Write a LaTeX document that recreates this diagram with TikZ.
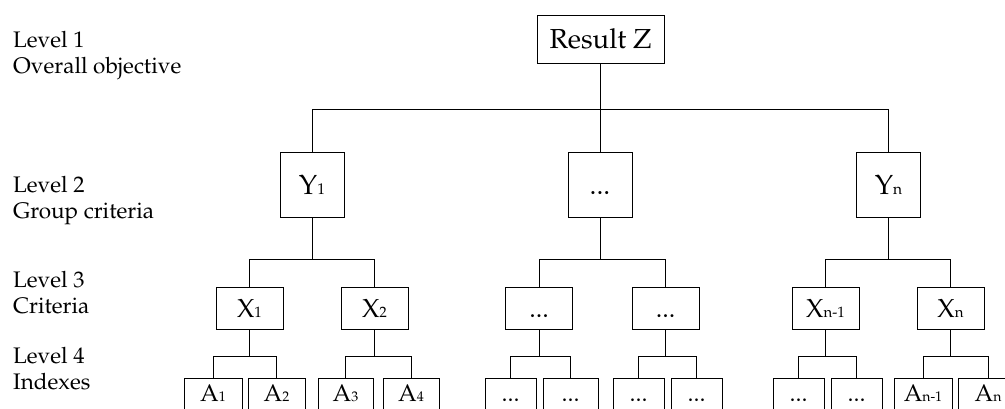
\documentclass[tikz,border=0pt]{standalone}
\usepackage[T1]{fontenc}
\usepackage{mathpazo}
\begin{document}
\begin{tikzpicture}[x=1pt,y=-1pt,
  every node/.style={inner sep=0pt},
  conn/.style={draw=black, line width=0.8pt},
  bx/.style={draw=black, line width=0.8pt, text height=18pt, text depth=0pt,
    font=\fontsize{26}{26}\selectfont\def\subfont{\fontsize{15}{15}\selectfont}},
  bxbig/.style={bx, text height=19pt,
    font=\fontsize{27.5}{27.5}\selectfont\def\subfont{\fontsize{15.5}{15.5}\selectfont}},
  boxA/.style={draw=black, line width=0.8pt, anchor=north, text height=23pt, text depth=20pt,
    font=\fontsize{24}{24}\selectfont\def\subfont{\fontsize{14}{14}\selectfont}},
  lvl/.style={anchor=north west, align=left, font=\fontsize{22.5}{26}\selectfont}
]
\newcommand{\sbs}[1]{{\subfont #1}}
\useasboundingbox (0,0) rectangle (1005,408);
\clip (0,0) rectangle (1005,408);

% level labels
\node[lvl] (L1) at (13,31) {Level 1\\Overall objective};
\node[lvl] (L2) at (13,176) {Level 2\\Group criteria};
\node[lvl] (L3) at (13,271) {Level 3\\Criteria};
\node[lvl] (L4) at (13,347) {Level 4\\Indexes};

% level 1
\node[bxbig, minimum width=127pt, minimum height=48pt] (Z) at (600.5,39) {Result Z};

% level 2
\node[bxbig, minimum width=64pt, minimum height=65pt] (Y1) at (312,184.5) {Y\sbs{1}};
\node[bxbig, minimum width=64pt, minimum height=65pt] (YM) at (600,184.5) {...};
\node[bxbig, minimum width=64pt, minimum height=65pt] (Yn) at (888.5,184.5) {Y\sbs{n}};

% level 3
\node[bx, minimum width=67pt, minimum height=42pt] (X1) at (249.5,308) {X\sbs{1}};
\node[bx, minimum width=67pt, minimum height=42pt] (X2) at (374.5,308) {X\sbs{2}};
\node[bx, minimum width=67pt, minimum height=42pt] (XM1) at (539,308) {...};
\node[bx, minimum width=67pt, minimum height=42pt] (XM2) at (665.5,308) {...};
\node[bx, minimum width=67pt, minimum height=42pt] (Xn1) at (825.5,308) {X\sbs{n-1}};
\node[bx, minimum width=67pt, minimum height=42pt] (Xn) at (950.5,308) {X\sbs{n}};

% level 4
\node[boxA, minimum width=58pt] (A1) at (213,378) {A\sbs{1}};
\node[boxA, minimum width=57pt] (A2) at (276.5,378) {A\sbs{2}};
\node[boxA, minimum width=55pt] (A3) at (345.5,378) {A\sbs{3}};
\node[boxA, minimum width=56pt] (A4) at (411,378) {A\sbs{4}};
\node[boxA, minimum width=51pt] (AM1) at (510.5,378) {...};
\node[boxA, minimum width=55pt] (AM2) at (570.5,378) {...};
\node[boxA, minimum width=51pt] (AM3) at (638.5,378) {...};
\node[boxA, minimum width=51pt] (AM4) at (696.5,378) {...};
\node[boxA, minimum width=51pt] (AM5) at (798.5,378) {...};
\node[boxA, minimum width=51pt] (AM6) at (856.5,378) {...};
\node[boxA, minimum width=58pt] (An1) at (923,378) {A\sbs{n-1}};
\node[boxA, minimum width=60pt] (An) at (988,378) {A\sbs{n}};

% connectors level 1 -> 2
\draw[conn] (Y1.north) -- ++(0,-42) coordinate (b1) -| (Yn.north);
\draw[conn] (Z.south) -- (Z.south |- b1);
\draw[conn] (YM.north) -- (YM.north |- b1);

% level 2 -> 3
\draw[conn] (X1.north) -- ++(0,-27) coordinate (b2) -| (X2.north);
\draw[conn] (Y1.south) -- (Y1.south |- b2);
\draw[conn] (XM1.north) -- ++(0,-27) coordinate (b3) -| (XM2.north);
\draw[conn] (YM.south) -- (YM.south |- b3);
\draw[conn] (Xn1.north) -- ++(0,-27) coordinate (b4) -| (Xn.north);
\draw[conn] (Yn.south) -- (Yn.south |- b4);

% level 3 -> 4
\draw[conn] (A1.north) -- ++(0,-22) coordinate (c1) -| (A2.north);
\draw[conn] (X1.south) -- (X1.south |- c1);
\draw[conn] (A3.north) -- ++(0,-22) coordinate (c2) -| (A4.north);
\draw[conn] (X2.south) -- (X2.south |- c2);
\draw[conn] (AM1.north) -- ++(0,-22) coordinate (c3) -| (AM2.north);
\draw[conn] (XM1.south) -- (XM1.south |- c3);
\draw[conn] (AM3.north) -- ++(0,-22) coordinate (c4) -| (AM4.north);
\draw[conn] (XM2.south) -- (XM2.south |- c4);
\draw[conn] (AM5.north) -- ++(0,-22) coordinate (c5) -| (AM6.north);
\draw[conn] (Xn1.south) -- (Xn1.south |- c5);
\draw[conn] (An1.north) -- ++(0,-22) coordinate (c6) -| (An.north);
\draw[conn] (Xn.south) -- (Xn.south |- c6);
\end{tikzpicture}
\end{document}
